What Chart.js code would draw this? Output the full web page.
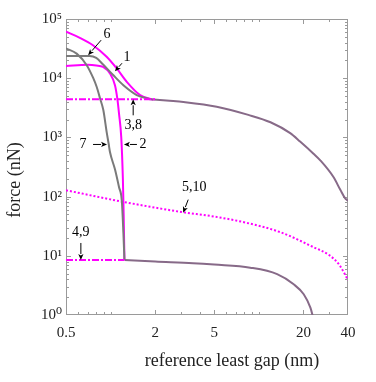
<!DOCTYPE html>
<html><head><meta charset="utf-8">
<script src="https://cdn.jsdelivr.net/npm/chart.js@4/dist/chart.umd.min.js"></script>
<style>html,body{margin:0;padding:0;background:#fff}#wrap{width:376px;height:382px}</style>
</head><body><div id="wrap"><canvas id="c" width="376" height="382"></canvas></div>
<script>
// ---- data ----
const curve6X = [0.5, 0.62, 0.76, 0.94, 1.1, 1.29, 1.58, 1.94];
const curve6Y = [6.1e4, 4.8e4, 3.6e4, 2.3e4, 1.46e4, 8.6e3, 5.2e3, 4.3e3];
const curve1X = [0.5, 0.72, 0.8, 0.89, 1.04, 1.22, 1.5, 1.85];
const curve1Y = [2.36e4, 2.36e4, 2.2e4, 1.7e4, 1.13e4, 7.6e3, 5.2e3, 4.4e3];
const curve2X = [0.5, 0.7, 0.8, 0.89, 0.99, 1.07, 1.11, 1.14, 1.18, 1.21, 1.225, 1.24];
const curve2Y = [1.6e4, 1.68e4, 1.64e4, 1.55e4, 1.2e4, 7.6e3, 4.5e3, 2.5e3, 1.0e3, 200, 50, 8.5];
const curve7X = [0.5, 0.59, 0.69, 0.764, 0.806, 0.85, 0.893, 0.942, 0.97, 0.991, 1.07, 1.14, 1.19, 1.22, 1.24];
const curve7Y = [3.2e4, 2.6e4, 1.66e4, 1.0e4, 7.1e3, 4.5e3, 2.9e3, 1.2e3, 780, 560, 290, 144, 85, 24, 8.5];
const upperX = [1.85, 2.5, 3.1, 5.2, 8.5, 12, 16.3, 19, 23.4, 26, 32, 35.5, 38.4, 40];
const upperY = [4.4e3, 4.15e3, 3.96e3, 3.3e3, 2.4e3, 1.8e3, 1.18e3, 850, 530, 410, 212, 130, 92, 85];
const lowerX = [1.24, 2, 3.6, 5, 8.75, 13.3, 17.2, 20.1, 22.3, 23.3];
const lowerY = [8.5, 8.0, 7.5, 7.1, 6.3, 4.9, 3.3, 2.24, 1.33, 0.9];
const curve510X = [0.5, 1.2, 3, 5, 8.3, 14, 23.4, 30, 35, 40];
const curve510Y = [128, 82, 55, 46, 36, 25, 14, 10.2, 7.0, 3.9];
const curve38X = [0.5, 2.0];
const curve38Y = [4.4e3, 4.4e3];
const curve49X = [0.5, 1.24];
const curve49Y = [8.5, 8.5];

const xTickLabels = [0.5, 2, 5, 20, 40];
const yTickValues = [1, 10, 100, 1000, 10000, 100000];
const xMinorTicks = [0.6,0.7,0.8,0.9,1,3,4,6,7,8,9,10,30];
const xMajorTicks = [2,5,20];
const xTitle = 'reference least gap (nm)';
const yTitle = 'force (nN)';

const notes = [
  {text:'6',    hx:0.705, hy:2.45e4, dx:13, dy:-15, lx:19, ly:-21},
  {text:'1',    hx:1.07,  hy:1.31e4, dx:7,  dy:-8,  lx:12, ly:-14},
  {text:'3,8',  hx:1.42,  hy:4.4e3,  dx:0,  dy:16,  lx:0,  ly:26},
  {text:'7',    hx:0.946, hy:760,    dx:-14,dy:0,   lx:-24,ly:0},
  {text:'2',    hx:1.23,  hy:760,    dx:13, dy:0,   lx:19, ly:0},
  {text:'5,10', hx:3.09,  hy:53.6,   dx:5,  dy:-13, lx:11, ly:-25},
  {text:'4,9',  hx:0.63,  hy:8.5,    dx:0,  dy:-17, lx:0,  ly:-28}
];

const pts = (xs, ys) => xs.map((x, i) => ({x, y: ys[i]}));
const MAG = '#ff00ff', GRAY = '#7a7a7a', MIX = '#876a88';
const SUP = {'0':'\u2070','1':'\u00b9','2':'\u00b2','3':'\u00b3','4':'\u2074','5':'\u2075'};
const SERIF = '"Liberation Serif", "DejaVu Serif", serif';

function ds(xs, ys, color, extra) {
  return Object.assign({data: pts(xs, ys), borderColor: color, borderWidth: 2,
    pointRadius: 0, fill: false, cubicInterpolationMode: 'monotone'}, extra || {});
}

const framePlugin = {
  id: 'frame',
  beforeDatasetsDraw(chart) {
    const {ctx, chartArea: a, scales: {x, y}} = chart;
    ctx.save();
    ctx.strokeStyle = '#9a9a9a';
    ctx.lineWidth = 1;
    ctx.strokeRect(a.left + 0.5, a.top + 0.5, a.right - a.left - 1, a.bottom - a.top - 1);
    ctx.beginPath();
    const vt = (v, len) => {
      const px = Math.round(x.getPixelForValue(v)) + 0.5;
      ctx.moveTo(px, a.bottom); ctx.lineTo(px, a.bottom - len);
      ctx.moveTo(px, a.top); ctx.lineTo(px, a.top + len);
    };
    xMinorTicks.forEach(v => vt(v, 3));
    xMajorTicks.forEach(v => vt(v, 5));
    const ht = (v, len) => {
      const py = Math.round(y.getPixelForValue(v)) + 0.5;
      ctx.moveTo(a.left, py); ctx.lineTo(a.left + len, py);
      ctx.moveTo(a.right, py); ctx.lineTo(a.right - len, py);
    };
    for (let k = 0; k < 5; k++) {
      const b = Math.pow(10, k);
      for (let m = 2; m <= 9; m++) ht(m * b, 3);
      if (k > 0) ht(b, 5);
    }
    ctx.stroke();
    // axis titles
    ctx.fillStyle = '#222';
    ctx.font = '18px ' + SERIF;
    ctx.textAlign = 'center'; ctx.textBaseline = 'middle';
    ctx.fillText(xTitle, 232, 361);
    ctx.translate(15, 180);
    ctx.rotate(-Math.PI / 2);
    ctx.fillText(yTitle, 0, 0);
    ctx.restore();
  }
};

const notePlugin = {
  id: 'notes',
  afterDatasetsDraw(chart) {
    const {ctx, scales: {x, y}} = chart;
    ctx.save();
    ctx.strokeStyle = '#000'; ctx.fillStyle = '#000'; ctx.lineWidth = 1;
    ctx.font = '14px ' + SERIF;
    ctx.textAlign = 'center'; ctx.textBaseline = 'middle';
    notes.forEach(n => {
      const hx = x.getPixelForValue(n.hx), hy = y.getPixelForValue(n.hy);
      const tx = hx + n.dx, ty = hy + n.dy;
      const ang = Math.atan2(hy - ty, hx - tx);
      const L = 6, W = 2.6;
      const bx = hx - L * Math.cos(ang), by = hy - L * Math.sin(ang);
      ctx.beginPath(); ctx.moveTo(tx, ty); ctx.lineTo(bx, by); ctx.stroke();
      ctx.beginPath();
      ctx.moveTo(hx, hy);
      ctx.lineTo(bx + W * Math.sin(ang), by - W * Math.cos(ang));
      ctx.lineTo(bx + 1.5 * Math.cos(ang), by + 1.5 * Math.sin(ang));
      ctx.lineTo(bx - W * Math.sin(ang), by + W * Math.cos(ang));
      ctx.closePath(); ctx.fill();
      ctx.fillText(n.text, hx + n.lx, hy + n.ly);
    });
    ctx.restore();
  }
};

new Chart(document.getElementById('c'), {
  type: 'line',
  data: {
    datasets: [
      ds(curve38X, curve38Y, MAG, {borderDash: [7, 2, 2, 2], cubicInterpolationMode: 'default'}),
      ds(curve49X, curve49Y, MAG, {borderDash: [7, 2, 2, 2], cubicInterpolationMode: 'default'}),
      ds(curve1X, curve1Y, GRAY),
      ds(curve7X, curve7Y, GRAY),
      ds(upperX, upperY, MIX),
      ds(lowerX, lowerY, MIX),
      ds(curve6X, curve6Y, MAG),
      ds(curve2X, curve2Y, MAG),
      ds(curve510X, curve510Y, MAG, {borderDash: [2, 2]})
    ]
  },
  options: {
    responsive: false, animation: false, devicePixelRatio: 1,
    layout: {padding: {top: 19, right: 28, left: 0, bottom: 0}},
    plugins: {legend: {display: false}, tooltip: {enabled: false}},
    scales: {
      x: {
        type: 'logarithmic', min: 0.5, max: 40,
        grid: {display: false, drawTicks: false}, border: {display: false},
        afterBuildTicks: s => { s.ticks = xTickLabels.map(v => ({value: v, major: true})); },
        afterFit: s => { s.height = 67; },
        ticks: {autoSkip: false, maxRotation: 0, padding: 9, color: '#222',
          font: {family: SERIF, size: 15}, callback: v => String(v)},
        title: {display: false}
      },
      y: {
        type: 'logarithmic', min: 1, max: 1e5,
        grid: {display: false, drawTicks: false}, border: {display: false},
        afterBuildTicks: s => { s.ticks = yTickValues.map(v => ({value: v, major: true})); },
        afterFit: s => { s.width = 66; },
        ticks: {autoSkip: false, padding: 4, color: '#222',
          font: {family: SERIF, size: 15},
          callback: v => '10' + SUP[String(Math.round(Math.log10(v)))]},
        title: {display: false}
      }
    }
  },
  plugins: [framePlugin, notePlugin]
});
</script>
</body></html>
